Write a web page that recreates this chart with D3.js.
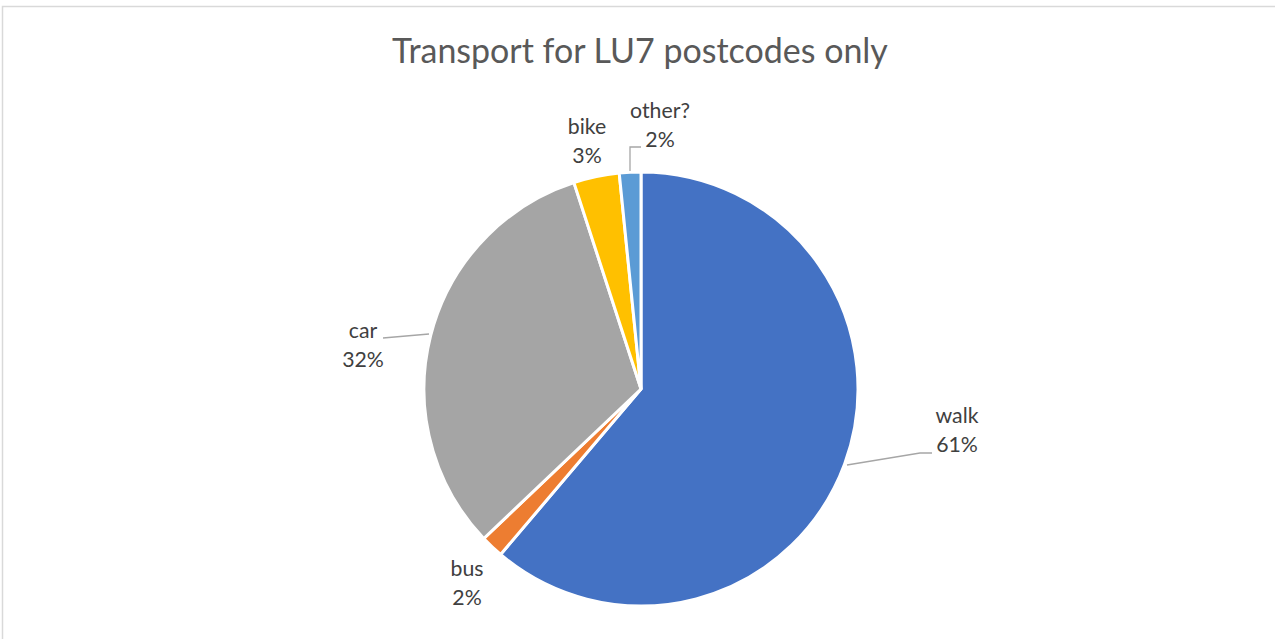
<!DOCTYPE html>
<html>
<head>
<meta charset="utf-8">
<script src="https://cdn.jsdelivr.net/npm/d3@7/dist/d3.min.js"></script>
<style>
  html, body { margin: 0; padding: 0; background: #fff; }
  svg { display: block; }
  text { font-family: Lato, "Open Sans", sans-serif; }
</style>
</head>
<body>
<svg id="chart" width="1275" height="639"></svg>
<script>
const title = "Transport for LU7 postcodes only";
const categories = ["walk", "bus", "car", "bike", "other?"];
const values = [61.2, 1.7, 32.1, 3.4, 1.6];
const colors = ["#4472C4", "#ED7D31", "#A5A5A5", "#FFC000", "#5B9BD5"];

const svg = d3.select("#chart");
const W = 1275, H = 639;

// chart border
svg.append("rect")
  .attr("x", 2.5).attr("y", 6.5)
  .attr("width", W + 10).attr("height", H + 10)
  .attr("fill", "#fff").attr("stroke", "#d9d9d9").attr("stroke-width", 1.5);

// title
const t = svg.append("text")
  .attr("x", 640).attr("y", 63)
  .attr("text-anchor", "middle")
  .attr("fill", "#595959")
  .attr("font-size", 32)
  .text(title);
const tw = t.node().getComputedTextLength();
t.attr("font-size", 32 * 496 / tw);

const cx = 641, cy = 389, R = 217;
const total = d3.sum(values);
const data = categories.map((c, i) => ({ name: c, value: values[i], color: colors[i] }));

const pie = d3.pie().sort(null).value(d => d.value);
const arcs = pie(data);
const arc = d3.arc().innerRadius(0).outerRadius(R);

const g = svg.append("g").attr("transform", `translate(${cx},${cy})`);
g.selectAll("path").data(arcs).join("path")
  .attr("d", arc)
  .attr("fill", d => d.data.color)
  .attr("stroke", "#fff")
  .attr("stroke-width", 3)
  .attr("stroke-linejoin", "miter");

const pct = d3.format(".0%");

const labelPos = {
  "walk":   { x: 957, y: 423 },
  "bus":    { x: 467, y: 576 },
  "car":    { x: 363, y: 338 },
  "bike":   { x: 587, y: 134 },
  "other?": { x: 660, y: 118 }
};
const leaders = {
  "walk":   [[847, 465], [920, 453], [932, 453]],
  "car":    [[383, 338], [429, 334]],
  "other?": [[630, 171], [630, 147], [641, 147]]
};

Object.entries(leaders).forEach(([k, pts]) => {
  svg.append("path")
    .attr("d", d3.line()(pts))
    .attr("fill", "none")
    .attr("stroke", "#a6a6a6")
    .attr("stroke-width", 1.3);
});

// fit label font size so "walk" is ~43px wide
const probe = svg.append("text").attr("font-size", 18).text("walk");
const labelSize = 18 * 43 / probe.node().getComputedTextLength();
probe.remove();

arcs.forEach(a => {
  const p = labelPos[a.data.name];
  const txt = svg.append("text")
    .attr("x", p.x).attr("y", p.y)
    .attr("text-anchor", "middle")
    .attr("fill", "#404040")
    .attr("font-size", labelSize);
  txt.append("tspan").attr("x", p.x).attr("dy", 0).text(a.data.name);
  txt.append("tspan").attr("x", p.x).attr("dy", 29).text(pct(a.data.value / total));
});
</script>
</body>
</html>
